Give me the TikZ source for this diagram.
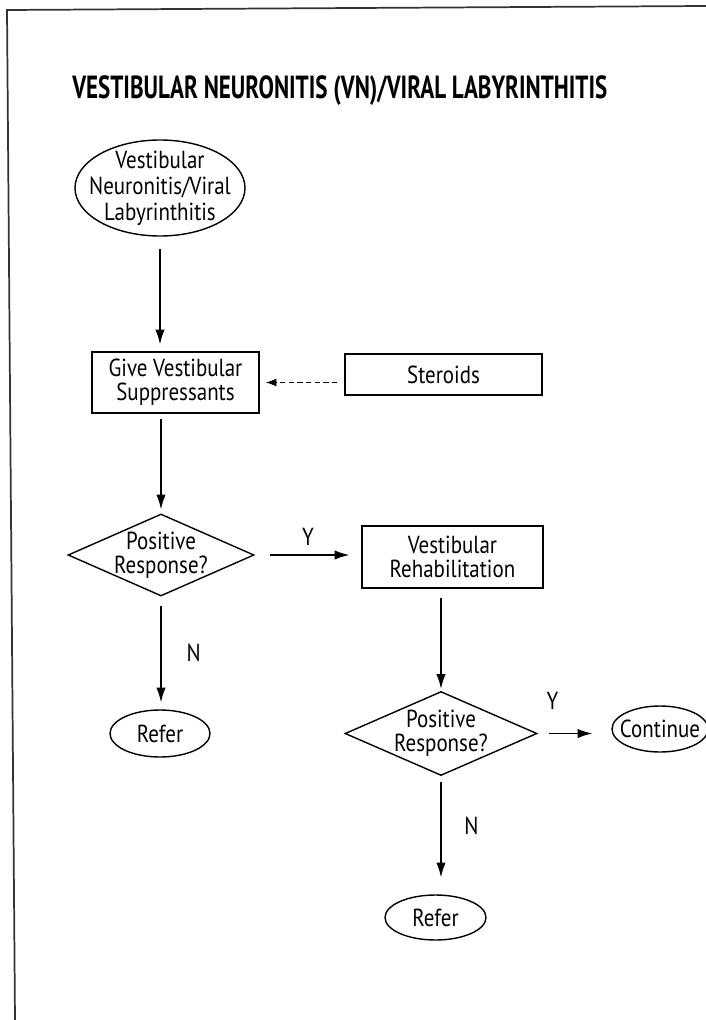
\documentclass[tikz,border=0pt]{standalone}
\usepackage{fontspec}
\setmainfont{PT Sans}[FakeStretch=0.85]
\newfontfamily\titlefont{PT Sans}[FakeStretch=0.72]
\usetikzlibrary{shapes.geometric,arrows.meta}

\begin{document}
\begin{tikzpicture}[x=0.75pt,y=-0.75pt,>={Latex[length=11pt,width=7pt]},
	every node/.style={font=\fontsize{18.5}{18}\selectfont, align=center},
	box/.style={draw, rectangle, line width=1.05pt},
	oval/.style={draw, ellipse, line width=1.05pt, inner sep=-15pt},
	decision/.style={draw, diamond, line width=1.05pt, inner sep=-25pt},
	flow/.style={->, line width=1.05pt},
	yn/.style={inner sep=0pt}]
		\useasboundingbox (0,0) rectangle (706,1020);
		\draw[line width=1.3pt, black!80] (706,6) -- (7,10) -- (15,1020);
		\node (title) [anchor=base west, inner sep=0pt, font=\titlefont\bfseries\fontsize{24}{26}\selectfont] at (72,99) {VESTIBULAR NEURONITIS (VN)/VIRAL LABYRINTHITIS};

		\node[oval, minimum width=127.5pt, minimum height=72pt, font=\fontsize{18.5}{19.5}\selectfont] (vn) at (160,188) {Vestibular\\Neuronitis/Viral\\Labyrinthitis};
		\node[box, minimum width=125.25pt, minimum height=45.75pt] (gvs) at (175.5,382.5) {Give Vestibular\\Suppressants};
		\node[box, minimum width=147.75pt, minimum height=30.75pt] (ster) at (443.5,374.5) {Steroids};
		\node[decision, minimum width=139.5pt, minimum height=61.5pt] (pr1) at (161,555) {Positive\\Response?};
		\node[box, minimum width=135.75pt, minimum height=46.5pt] (rehab) at (452.5,557) {Vestibular\\Rehabilitation};
		\node[oval, minimum width=75pt, minimum height=35.25pt] (refer1) at (160,733.5) {Refer};
		\node[decision, minimum width=144pt, minimum height=63pt] (pr2) at (441,733.5) {Positive\\Response?};
		\node[oval, minimum width=72pt, minimum height=34.5pt] (cont) at (660,729) {Continue};
		\node[oval, minimum width=75.75pt, minimum height=33.75pt] (refer2) at (435.5,917.5) {Refer};

		% connectors
		\draw[flow, shorten <=9pt, shorten >=5.25pt] (vn.south) -- (vn.south |- gvs.north);
		\draw[flow, shorten <=3.75pt, shorten >=3pt] (pr1.north |- gvs.south) -- (pr1.north);
		\draw[line width=1.05pt, dash pattern=on 4pt off 2.5pt, -{Latex[length=8pt,width=6pt]}, shorten <=5.25pt, shorten >=4.5pt] (ster.west |- gvs.east) -- (gvs.east);
		\draw[flow, shorten <=11.25pt, shorten >=9pt] (pr1.east) -- (pr1.east -| rehab.west) node[yn, midway, above=6.75pt] {Y};
		\draw[flow, shorten <=6.75pt, shorten >=5.25pt] (pr1.south) -- (pr1.south |- refer1.north) node[yn, midway, right=18.75pt] {N};
		\draw[flow, shorten <=6.75pt, shorten >=1.5pt] (pr2.north |- rehab.south) -- (pr2.north);
		\draw[flow, shorten <=8.25pt, shorten >=14.25pt] (pr2.east) -- (pr2.east -| cont.west) node[yn, pos=0.2, above=17.25pt] {Y};
		\draw[flow, shorten <=4.5pt, shorten >=12.75pt] (pr2.south) -- (pr2.south |- refer2.north) node[yn, pos=0.42, right=17pt] {N};
\end{tikzpicture}
\end{document}
